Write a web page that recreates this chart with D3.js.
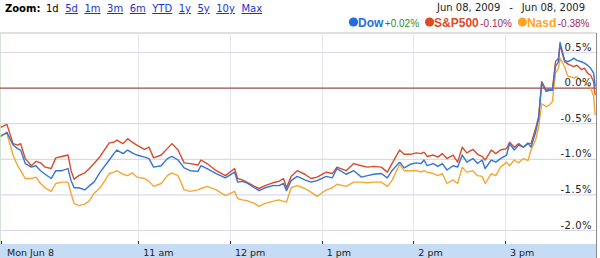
<!DOCTYPE html>
<html><head><meta charset="utf-8">
<script src="https://cdn.jsdelivr.net/npm/d3@7"></script>
<style>html,body{margin:0;padding:0;background:#fff;overflow:hidden}</style>
</head><body><svg id="c" width="600" height="258"></svg>
<script>
// minutes after 9:30 open
const minutes = [0,4,8,11,13,16,20,23,26,29,33,36,40,44,46,48,51,55,58,61,65,71,74,76,80,83,86,89,94,97,100,105,109,112,116,120,124,129,
131,135,141,147,153,155,158,161,166,169,173,178,182,185,187,190,194,199,203,207,213,217,220,226,231,236,240,244,
249,253,256,261,264,268,272,275,277,279,283,286,289,292,296,299,302,305,309,312,315,317,321,324,327,331,333,336,339,342,345,
347,350,352,354,357,359,361,363,365,366,369,371,373,375,377,380,382,384,386,388,389];
const dow = [-0.68,-0.62,-0.80,-0.85,-0.87,-1.06,-1.11,-1.09,-1.16,-1.21,-1.27,-1.16,-1.16,-1.13,-1.30,-1.40,-1.40,-1.43,-1.37,-1.32,-1.18,-1.01,-0.92,-0.87,-0.92,-0.87,-0.91,-0.94,-0.97,-0.99,-1.11,-1.09,-0.99,-0.96,-1.01,-1.12,-1.16,-1.17,
-1.09,-1.13,-1.20,-1.26,-1.18,-1.32,-1.31,-1.33,-1.40,-1.44,-1.40,-1.37,-1.37,-1.34,-1.44,-1.30,-1.24,-1.29,-1.32,-1.30,-1.24,-1.26,-1.13,-1.21,-1.16,-1.25,-1.23,-1.21,
-1.20,-1.26,-1.16,-1.04,-1.12,-1.07,-1.05,-1.06,-1.01,-1.09,-1.06,-1.10,-1.06,-1.15,-1.09,-1.11,-0.94,-1.04,-0.99,-1.06,-1.01,-1.13,-1.01,-1.04,-0.99,-0.94,-0.78,-0.87,-0.80,-0.83,-0.77,
-0.83,-0.62,-0.43,0.07,-0.05,-0.03,-0.03,0.30,0.37,0.64,0.39,0.37,0.39,0.42,0.39,0.37,0.35,0.32,0.28,0.21,0.02];
const sp500 = [-0.55,-0.51,-0.78,-0.80,-0.78,-0.99,-1.09,-1.03,-1.05,-1.11,-1.13,-0.98,-0.96,-0.94,-1.16,-1.28,-1.23,-1.19,-1.13,-1.06,-0.96,-0.77,-0.76,-0.73,-0.78,-0.71,-0.76,-0.80,-0.86,-0.83,-0.98,-0.94,-0.85,-0.78,-0.87,-1.05,-1.06,-1.08,
-1.01,-1.06,-1.16,-1.23,-1.13,-1.27,-1.29,-1.32,-1.38,-1.41,-1.37,-1.33,-1.31,-1.27,-1.40,-1.24,-1.16,-1.21,-1.27,-1.25,-1.18,-1.20,-1.11,-1.16,-1.06,-1.09,-1.11,-1.10,
-1.11,-1.18,-1.06,-0.87,-0.93,-0.93,-0.91,-0.92,-0.90,-0.96,-0.94,-0.97,-0.92,-0.99,-0.94,-1.04,-0.83,-0.91,-0.86,-0.93,-0.96,-1.01,-0.87,-0.92,-0.87,-0.85,-0.76,-0.83,-0.78,-0.83,-0.78,
-0.78,-0.57,-0.40,0.09,-0.03,-0.02,-0.03,0.37,0.42,0.61,0.37,0.34,0.32,0.30,0.32,0.26,0.28,0.21,0.18,0.09,-0.10];
const nasd = [-0.66,-0.64,-0.94,-1.09,-1.16,-1.27,-1.27,-1.25,-1.34,-1.40,-1.45,-1.34,-1.32,-1.32,-1.48,-1.62,-1.65,-1.63,-1.58,-1.48,-1.40,-1.20,-1.18,-1.16,-1.21,-1.23,-1.19,-1.25,-1.27,-1.31,-1.38,-1.34,-1.23,-1.19,-1.23,-1.43,-1.45,-1.43,
-1.41,-1.38,-1.43,-1.51,-1.45,-1.55,-1.57,-1.58,-1.62,-1.66,-1.62,-1.59,-1.57,-1.59,-1.60,-1.40,-1.37,-1.41,-1.46,-1.52,-1.43,-1.40,-1.35,-1.38,-1.32,-1.32,-1.33,-1.32,
-1.32,-1.38,-1.30,-1.07,-1.16,-1.16,-1.16,-1.18,-1.16,-1.18,-1.20,-1.23,-1.20,-1.34,-1.29,-1.34,-1.11,-1.18,-1.16,-1.23,-1.24,-1.34,-1.20,-1.23,-1.11,-1.04,-1.09,-1.01,-1.05,-0.99,-1.02,
-0.87,-0.73,-0.55,-0.22,-0.26,-0.24,-0.19,0.21,0.28,0.42,0.30,0.17,0.16,0.14,0.16,0.10,0.09,0.04,0.01,-0.12,-0.38];

const yTicks = [0.5, 0, -0.5, -1.0, -1.5, -2.0];
const yTickLabels = ["0.5%","0.0%","-0.5%","-1.0%","-1.5%","-2.0%"];
const xTicks = [0, 90, 150, 210, 270, 330];
const xTickLabels = ["Mon Jun 8","11 am","12 pm","1 pm","2 pm","3 pm"];
const zoomLabels = ["1d","5d","1m","3m","6m","YTD","1y","5y","10y","Max"];
const seriesNames = ["Dow","S&P500","Nasd"];
const seriesChanges = ["+0.02%","-0.10%","-0.38%"];
const dateRange = ["Jun 08, 2009","Jun 08, 2009"];

const seriesColors = ["#3474d4","#d84a2a","#f5a733"];
const dotColors = ["#1f6fe0","#e04a1f","#ffa524"];
const changeColors = ["#2e8b2e","#a3265a","#a3265a"];

const svg = d3.select("#c");
const plotTop = 33, plotBottom = 244, plotRight = 596.5;
const x = d3.scaleLinear().domain([0,390]).range([0.8,596.7]);
const y = d3.scaleLinear().domain([-2,0.5]).range([230.5,52.5]);

// top border
svg.append("line").attr("x1",0).attr("x2",plotRight).attr("y1",plotTop).attr("y2",plotTop)
  .attr("stroke","#d6d6d6").attr("stroke-width",1.5);
// left edge
svg.append("line").attr("x1",0.5).attr("x2",0.5).attr("y1",plotTop).attr("y2",plotBottom)
  .attr("stroke","#d3e4d3").attr("stroke-width",1);

// vertical grid
svg.append("g").selectAll("line").data(xTicks.slice(1)).join("line")
  .attr("x1",d=>Math.round(x(d))+0.5).attr("x2",d=>Math.round(x(d))+0.5)
  .attr("y1",plotTop).attr("y2",plotBottom).attr("stroke","#e6e6ee").attr("stroke-width",1);

// horizontal grid
svg.append("g").selectAll("line").data(yTicks.filter(d=>d!==0)).join("line")
  .attr("x1",0).attr("x2",plotRight).attr("y1",d=>y(d)).attr("y2",d=>y(d))
  .attr("stroke","#d9d9ee").attr("stroke-width",1.2);

// bottom band
svg.append("rect").attr("x",0).attr("y",plotBottom).attr("width",plotRight).attr("height",258-plotBottom)
  .attr("fill","#c6dbf4");

// zero line
svg.append("line").attr("x1",0).attr("x2",plotRight).attr("y1",y(0)).attr("y2",y(0))
  .attr("stroke","#9b4848").attr("stroke-width",1.2);

// lines
const line = d3.line().x((d,i)=>x(minutes[i])).y(d=>y(d));
[nasd, sp500, dow].forEach((s,k)=>{
  const ci = [2,1,0][k];
  svg.append("path").datum(s).attr("d",line).attr("fill","none")
    .attr("stroke",seriesColors[ci]).attr("stroke-width",1.4).attr("stroke-linejoin","round");
});

// y labels
svg.append("g").selectAll("text").data(yTicks).join("text")
  .attr("x",592).attr("y",d=>y(d)-2).attr("text-anchor","end")
  .attr("font-family","DejaVu Sans, Verdana, sans-serif").attr("font-size",10).attr("letter-spacing",0.5)
  .attr("fill","#222").text((d,i)=>yTickLabels[i]);

// x ticks & labels
svg.append("g").selectAll("line").data(xTicks).join("line")
  .attr("x1",d=>Math.round(x(d))+0.5).attr("x2",d=>Math.round(x(d))+0.5)
  .attr("y1",plotBottom-3).attr("y2",plotBottom).attr("stroke","#333").attr("stroke-width",1);
svg.append("g").selectAll("text").data(xTicks).join("text")
  .attr("x",(d,i)=> i===0 ? 7 : x(d)+5).attr("y",255.5)
  .attr("font-family","DejaVu Sans, Verdana, sans-serif").attr("font-size",9.5)
  .attr("fill","#222").text((d,i)=>xTickLabels[i]);

// right border
svg.append("line").attr("x1",plotRight).attr("x2",plotRight).attr("y1",plotTop).attr("y2",258)
  .attr("stroke","#8a8a8a").attr("stroke-width",1);

// zoom links
const zt = svg.append("g").attr("font-family","DejaVu Sans, Verdana, sans-serif").attr("font-size",10);
zt.append("text").attr("x",5).attr("y",12).attr("font-weight","bold").attr("fill","#000").text("Zoom:");
let zx = 46;
zoomLabels.forEach((lab,i)=>{
  const t = zt.append("text").attr("x",zx).attr("y",12).text(lab)
    .attr("fill", i===0 ? "#000" : "#1a33cc")
    .attr("text-decoration", i===0 ? null : "underline");
  zx += t.node().getComputedTextLength() + 6.5;
});

// date range
const dt = svg.append("g").attr("font-family","DejaVu Sans, Verdana, sans-serif").attr("font-size",10).attr("fill","#222");
dt.append("text").attr("x",437).attr("y",11).text(dateRange[0]);
dt.append("text").attr("x",511).attr("y",11).attr("text-anchor","middle").text("-");
dt.append("text").attr("x",585).attr("y",11).attr("text-anchor","end").text(dateRange[1]);

// legend
const lg = svg.append("g").attr("font-family","Liberation Sans, Arial, sans-serif");
let lx = 349;
seriesNames.forEach((nm,i)=>{
  lg.append("circle").attr("cx",lx+4.5).attr("cy",22).attr("r",4.6).attr("fill",dotColors[i]);
  lx += 9;
  const t1 = lg.append("text").attr("x",lx).attr("y",26.5).attr("font-size",12).attr("font-weight","bold")
    .attr("fill",dotColors[i]).text(nm);
  lx += t1.node().getComputedTextLength() + 1.5;
  const t2 = lg.append("text").attr("x",lx).attr("y",26.5).attr("font-size",10)
    .attr("fill",changeColors[i]).text(seriesChanges[i]);
  lx += t2.node().getComputedTextLength() + 6;
});
</script></body></html>
